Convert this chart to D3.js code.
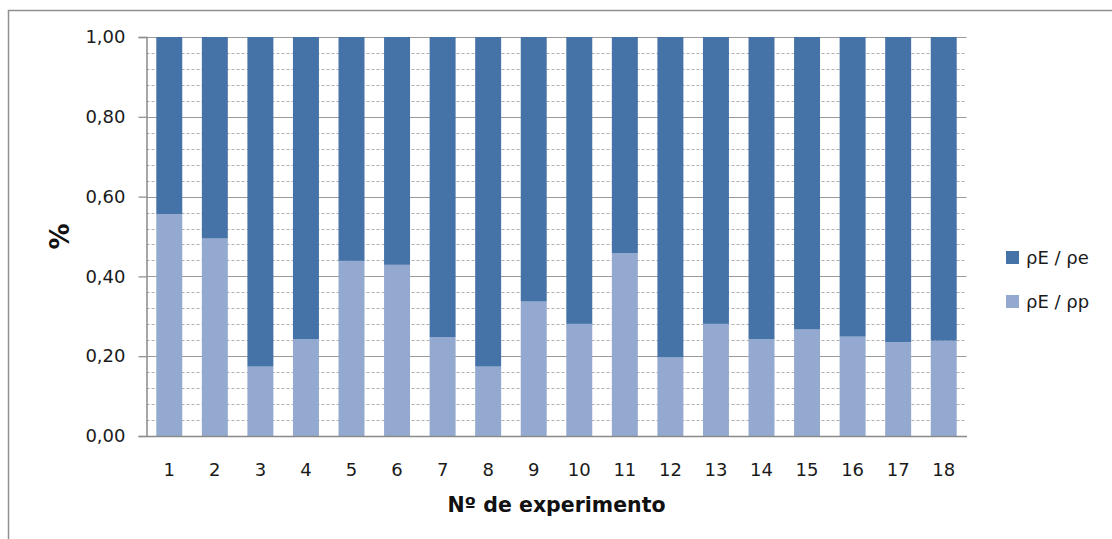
<!DOCTYPE html>
<html><head><meta charset="utf-8">
<script src="https://cdnjs.cloudflare.com/ajax/libs/d3/7.8.5/d3.min.js"></script>
<style>
html,body{margin:0;padding:0;background:#fff;}
svg{display:block;}
</style></head>
<body>
<svg id="chart" width="1112" height="539"></svg>
<script>
const experimentos = ["1","2","3","4","5","6","7","8","9","10","11","12","13","14","15","16","17","18"];
const rhoEp = [0.556,0.495,0.174,0.243,0.439,0.429,0.248,0.174,0.337,0.281,0.458,0.197,0.281,0.243,0.267,0.249,0.235,0.239];
const rhoEe = [0.444,0.505,0.826,0.757,0.561,0.571,0.752,0.826,0.663,0.719,0.542,0.803,0.719,0.757,0.733,0.751,0.765,0.761];
const seriesNames = ["ρE / ρp","ρE / ρe"];
const yMajorTicks = [0,0.2,0.4,0.6,0.8,1.0];
const yMinorTicks = [0.04,0.08,0.12,0.16,0.24,0.28,0.32,0.36,0.44,0.48,0.52,0.56,0.64,0.68,0.72,0.76,0.84,0.88,0.92,0.96];
const colors = {"ρE / ρp":"#93A9CF","ρE / ρe":"#4572A7"};

(function(){
const svg = d3.select("#chart");
const W = 1112, H = 539;
const mLeft = 146.5, mRight = 966.5, mTop = 37, mBottom = 436;

// frame
svg.append("path").attr("d", `M8.5,${H+2} V10.5 H${W+2}`).attr("fill","none").attr("stroke","#8f8f8f").attr("stroke-width",1.5);

const x = d3.scaleBand().domain(experimentos).range([mLeft,mRight]).paddingInner(0.43).paddingOuter(0.215);
const y = d3.scaleLinear().domain([0,1]).range([mBottom,mTop]);
const loc = d3.formatLocale({decimal:",",thousands:".",grouping:[3],currency:["",""]});
const fmt = loc.format(".2f");

// minor gridlines
svg.append("g").selectAll("line").data(yMinorTicks).join("line")
  .attr("x1",mLeft).attr("x2",mRight)
  .attr("y1",d=>Math.round(y(d))+0.5).attr("y2",d=>Math.round(y(d))+0.5)
  .attr("stroke","#b0b0b0").attr("stroke-width",1).attr("stroke-dasharray","3,2");
// major gridlines
svg.append("g").selectAll("line").data(yMajorTicks.slice(1)).join("line")
  .attr("x1",mLeft).attr("x2",mRight)
  .attr("y1",d=>Math.round(y(d))+0.5).attr("y2",d=>Math.round(y(d))+0.5)
  .attr("stroke","#9a9a9a").attr("stroke-width",1.2);

// bars
const data = experimentos.map((e,i)=>({exp:e,"ρE / ρp":rhoEp[i],"ρE / ρe":rhoEe[i]}));
const stack = d3.stack().keys(seriesNames)(data);
svg.append("g").selectAll("g").data(stack).join("g")
  .attr("fill",d=>colors[d.key])
  .selectAll("rect").data(d=>d).join("rect")
  .attr("x",d=>x(d.data.exp)).attr("width",x.bandwidth())
  .attr("y",d=>y(d[1])).attr("height",d=>y(d[0])-y(d[1]));

// y axis
const yAxis = svg.append("g").attr("transform",`translate(${mLeft},0)`)
  .call(d3.axisLeft(y).tickValues(yMajorTicks).tickFormat(fmt).tickSize(8).tickPadding(13));
yAxis.select(".domain").attr("stroke","#8a8a8a").attr("stroke-width",1.5);
yAxis.selectAll(".tick line").attr("stroke","#8a8a8a").attr("stroke-width",1.2);
yAxis.selectAll("text").attr("font-family","DejaVu Sans").attr("font-size",18).attr("fill","#1a1a1a");

// x axis
const xAxis = svg.append("g").attr("transform",`translate(0,${mBottom})`)
  .call(d3.axisBottom(x).tickSize(0).tickPadding(27));
xAxis.select(".domain").attr("stroke","#8a8a8a").attr("stroke-width",1.5);
xAxis.selectAll("text").attr("font-family","DejaVu Sans").attr("font-size",18).attr("fill","#1a1a1a");

// axis titles
svg.append("text").attr("transform",`translate(69,${(mTop+mBottom)/2}) rotate(-90)`)
  .attr("text-anchor","middle").attr("font-family","DejaVu Sans").attr("font-weight","bold")
  .attr("font-size",26).attr("fill","#111").text("%");
svg.append("text").attr("x",(mLeft+mRight)/2).attr("y",512)
  .attr("text-anchor","middle").attr("font-family","DejaVu Sans").attr("font-weight","bold")
  .attr("font-size",20.5).attr("fill","#111").text("Nº de experimento");

// legend
const legendItems = ["ρE / ρe","ρE / ρp"];
const lg = svg.append("g").selectAll("g").data(legendItems).join("g")
  .attr("transform",(d,i)=>`translate(1006,${251+i*44})`);
lg.append("rect").attr("width",13).attr("height",13).attr("fill",d=>colors[d]);
lg.append("text").attr("x",20).attr("y",13).attr("font-family","DejaVu Sans").attr("font-size",18)
  .attr("fill","#1a1a1a").text(d=>d);
})();
</script>
</body></html>
